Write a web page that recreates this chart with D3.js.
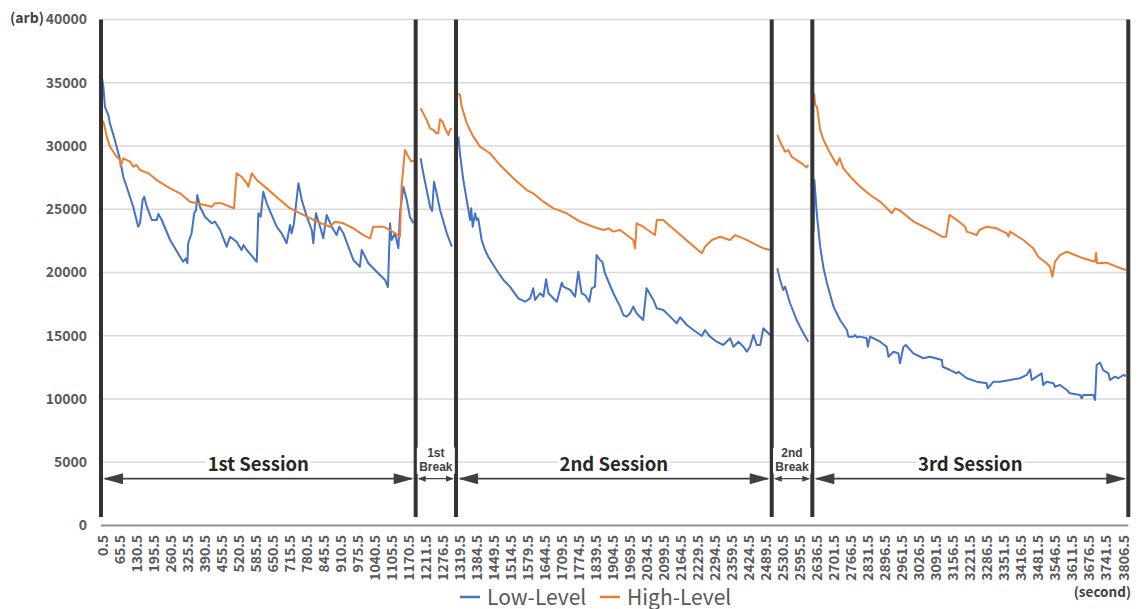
<!DOCTYPE html>
<html>
<head>
<meta charset="utf-8">
<script src="https://cdn.jsdelivr.net/npm/d3@7"></script>
<style>
  html, body { margin: 0; padding: 0; background: #fff; }
  svg text { font-family: "Noto Sans CJK JP", "Noto Sans", sans-serif; }
</style>
</head>
<body>
<svg id="chart" width="1138" height="609"></svg>
<script>
// ---- axis definitions -------------------------------------------------
// time labels (seconds), one every 65 samples along the category axis
const tickLabels = [
  "0.5","65.5","130.5","195.5","260.5","325.5","390.5","455.5","520.5","585.5",
  "650.5","715.5","780.5","845.5","910.5","975.5","1040.5","1105.5","1170.5",
  "1211.5","1276.5",
  "1319.5","1384.5","1449.5","1514.5","1579.5","1644.5","1709.5","1774.5","1839.5",
  "1904.5","1969.5","2034.5","2099.5","2164.5","2229.5","2294.5","2359.5","2424.5","2489.5",
  "2530.5","2595.5",
  "2636.5","2701.5","2766.5","2831.5","2896.5","2961.5","3026.5","3091.5","3156.5",
  "3221.5","3286.5","3351.5","3416.5","3481.5","3546.5","3611.5","3676.5","3741.5","3806.5"
];
const samplesPerTick = 65;
const sampleCount = 3924;
const yTicks = [0, 5000, 10000, 15000, 20000, 25000, 30000, 35000, 40000];

// phase boundaries (sample index) and phase names
const phaseBounds = [0, 1202, 1356, 2562, 2717, 3924];
const phaseNames = [["1st Session"], ["1st", "Break"], ["2nd Session"], ["2nd", "Break"], ["3rd Session"]];

// ---- series: [sample index, value], one list per phase ----------------
const lowLevel = [
  [[0,35870],[9,34690],[15,33100],[28,32450],[34,31790],[53,30470],[73,28890],[85,27570],[98,26780],
   [123,25200],[142,23620],[149,23890],[159,25730],[165,25990],[175,25200],[194,24150],[213,24150],
   [219,24620],[232,24150],[264,22570],[302,21250],[314,20850],[324,21120],[330,20730],[333,22310],
   [346,23100],[356,24680],[363,24940],[368,26130],[378,25200],[397,24410],[423,23890],[435,24020],
   [455,23360],[480,22040],[493,22830],[518,22430],[537,21780],[544,22170],[557,21780],[595,20850],
   [601,24680],[610,24410],[620,26390],[633,25470],[671,23620],[690,23100],[709,22310],[722,23760],
   [728,23100],[737,23890],[754,27050],[767,25730],[786,24410],[805,23360],[811,22310],[821,24680],
   [837,23620],[849,22700],[862,24550],[881,23620],[900,22960],[910,23620],[926,23100],[964,20990],
   [989,20460],[996,21780],[1021,20730],[1053,20060],[1085,19410],[1096,18850],[1104,23890],
   [1110,22570],[1123,23100],[1136,21910],[1142,24680],[1155,26780],[1168,25730],[1180,24410],[1193,23890]],
  [[1221,29030],[1231,27840],[1244,26520],[1257,25200],[1265,24860],[1272,27180],[1282,26260],
   [1295,24940],[1308,24020],[1321,23100],[1340,22040]],
  [[1365,30740],[1371,29420],[1384,27310],[1397,25730],[1410,24150],[1414,25070],[1420,23620],
   [1429,24680],[1435,24150],[1441,24280],[1454,22570],[1467,21780],[1479,21250],[1511,20200],
   [1537,19410],[1562,18880],[1594,17960],[1620,17690],[1639,17960],[1651,18750],[1658,17830],
   [1677,18360],[1690,18090],[1700,19460],[1709,18360],[1741,17690],[1760,19190],[1766,18880],
   [1792,18620],[1811,18090],[1823,20060],[1836,18360],[1849,18220],[1865,17690],[1874,18750],
   [1887,18880],[1893,21380],[1906,20990],[1915,20850],[1925,19940],[1957,18360],[1983,17300],
   [1995,16640],[2008,16510],[2021,16780],[2033,17300],[2046,16780],[2071,16250],[2084,18750],
   [2110,17830],[2123,17170],[2148,17040],[2174,16510],[2199,15980],[2212,16460],[2238,15850],
   [2263,15450],[2295,14980],[2307,15450],[2326,14930],[2352,14530],[2377,14270],[2403,14800],
   [2416,14130],[2435,14530],[2454,14130],[2467,13740],[2479,14130],[2492,15060],[2505,14270],
   [2518,14270],[2530,15590],[2543,15320],[2556,15060]],
  [[2583,20330],[2594,19410],[2606,18620],[2613,18880],[2632,17570],[2657,16250],[2683,15190],[2702,14530]],
  [[2722,23230],[2725,27310],[2734,24680],[2747,22040],[2760,20330],[2773,19150],[2798,17300],
   [2823,16250],[2849,15450],[2855,14930],[2874,14930],[2880,15060],[2887,14880],[2899,14930],
   [2925,14800],[2929,14130],[2938,14930],[2976,14530],[3001,14130],[3008,13340],[3027,13740],
   [3046,13610],[3052,12820],[3065,14130],[3074,14270],[3103,13610],[3141,13220],[3167,13340],
   [3212,13080],[3215,12550],[3243,12290],[3269,12030],[3275,12160],[3307,11640],[3345,11370],
   [3383,11240],[3387,10850],[3409,11370],[3434,11370],[3472,11500],[3510,11640],[3536,11900],
   [3549,12350],[3555,11500],[3574,11770],[3593,12030],[3599,11110],[3612,11370],[3638,11240],
   [3644,10970],[3663,11110],[3689,10710],[3701,10450],[3740,10320],[3746,10060],[3752,10320],
   [3790,10320],[3797,9920],[3803,12690],[3816,12870],[3828,12290],[3848,12030],[3854,11500],
   [3873,11770],[3886,11640],[3905,11900],[3915,11820]]
];

const highLevel = [
  [[0,32190],[11,31790],[22,30740],[34,29950],[60,29150],[73,28890],[75,28360],[85,29020],[111,28760],
   [123,28360],[136,28500],[149,28100],[181,27840],[213,27310],[264,26650],[302,26260],[340,25600],
   [366,25470],[397,25340],[423,25200],[435,25470],[461,25470],[493,25200],[508,25070],[518,27840],
   [537,27570],[557,27050],[563,26780],[576,27840],[595,27310],[633,26650],[684,25730],[722,25070],
   [773,24550],[824,24020],[875,23620],[894,24020],[926,23890],[964,23490],[1002,22960],[1028,22700],
   [1040,23620],[1078,23620],[1104,23360],[1142,22830],[1148,26780],[1161,29680],[1174,29150],
   [1186,28760],[1199,28890]],
  [[1221,32980],[1231,32580],[1244,32060],[1257,31400],[1269,31270],[1282,31000],[1288,31000],
   [1295,32110],[1305,31920],[1314,31400],[1327,30870],[1333,31270],[1340,31400]],
  [[1365,34170],[1371,34030],[1378,33110],[1397,31790],[1422,30740],[1448,29950],[1467,29680],
   [1486,29420],[1524,28500],[1575,27450],[1626,26520],[1651,26260],[1690,25600],[1728,25070],
   [1779,24680],[1830,24020],[1880,23620],[1919,23360],[1938,23490],[1957,23230],[1983,23360],
   [2008,22960],[2033,22570],[2040,21910],[2046,23890],[2071,23620],[2116,22960],[2123,24150],
   [2148,24150],[2161,23890],[2199,23230],[2250,22310],[2295,21520],[2307,22040],[2333,22570],
   [2365,22830],[2403,22570],[2422,22960],[2454,22700],[2492,22310],[2530,21910],[2556,21780]],
  [[2583,30870],[2594,30340],[2613,29550],[2625,29680],[2638,29150],[2657,28890],[2676,28630],
   [2695,28310],[2702,28500]],
  [[2724,34170],[2728,33240],[2735,33110],[2747,31270],[2760,30470],[2785,29420],[2811,28500],
   [2821,29030],[2836,28240],[2862,27570],[2900,26780],[2938,26130],[2976,25600],[3021,24680],
   [3034,25070],[3053,24880],[3104,24020],[3142,23620],[3180,23230],[3212,22830],[3228,22830],
   [3241,24550],[3269,24150],[3301,23620],[3307,23230],[3345,22960],[3355,23360],[3383,23620],
   [3421,23490],[3460,23100],[3466,22830],[3472,23230],[3523,22570],[3561,21910],[3580,21250],
   [3612,20730],[3625,20460],[3634,19670],[3644,20850],[3663,21380],[3689,21650],[3720,21380],
   [3752,21120],[3797,20850],[3801,21570],[3805,20730],[3841,20780],[3879,20460],[3915,20200]]
];

const seriesNames = ["Low-Level", "High-Level"];
const seriesColors = ["#4472C4", "#ED7D31"];

// ---- layout -----------------------------------------------------------
const plot = { left: 101, right: 1128.3, top: 19.5, bottom: 525.5 };
const textColor = "#595959";

const svg = d3.select("#chart");

const x = d3.scaleLinear().domain([0, sampleCount]).range([plot.left, plot.right]);
const y = d3.scaleLinear().domain([0, 40000]).range([plot.bottom, plot.top]);

// horizontal gridlines
svg.append("g").selectAll("line")
  .data(yTicks.filter(d => d > 0))
  .join("line")
  .attr("x1", plot.left).attr("x2", plot.right)
  .attr("y1", d => y(d)).attr("y2", d => y(d))
  .attr("stroke", "#d9d9d9").attr("stroke-width", 1.5);

// y axis labels
const yAxis = d3.axisLeft(y).tickValues(yTicks).tickSize(0).tickPadding(14).tickFormat(d3.format("d"));
const gy = svg.append("g").attr("transform", `translate(${plot.left},0)`).call(yAxis);
gy.select(".domain").remove();
gy.selectAll("text")
  .attr("fill", textColor).attr("font-size", 14).attr("font-weight", 700);

// category axis (time labels every 65 samples)
const xTickPos = tickLabels.map((_, i) => i * samplesPerTick);
const xAxis = d3.axisBottom(x).tickValues(xTickPos).tickSize(0)
  .tickFormat((d, i) => tickLabels[i]);
const gx = svg.append("g").attr("transform", `translate(0,${plot.bottom})`).call(xAxis);
gx.select(".domain").attr("stroke", "#8c8c8c").attr("stroke-width", 2)
  .attr("d", `M${plot.left},0H${plot.right}`);
gx.selectAll("text")
  .attr("fill", textColor).attr("font-size", 14).attr("font-weight", 700)
  .attr("transform", "rotate(-90)")
  .attr("text-anchor", "end")
  .attr("dominant-baseline", "central")
  .attr("x", -9.5).attr("y", 0).attr("dy", null);

// data lines
const line = d3.line().x(d => x(d[0])).y(d => y(d[1]));
[lowLevel, highLevel].forEach((series, k) => {
  svg.append("g").selectAll("path")
    .data(series)
    .join("path")
    .attr("d", line)
    .attr("fill", "none")
    .attr("stroke", seriesColors[k])
    .attr("stroke-width", 2)
    .attr("stroke-linejoin", "round");
});

// phase boundary bars
const barBottom = y(0) - 8.5;
svg.append("g").selectAll("line")
  .data(phaseBounds)
  .join("line")
  .attr("x1", d => x(d)).attr("x2", d => x(d))
  .attr("y1", y(40000)).attr("y2", barBottom)
  .attr("stroke", "#333333").attr("stroke-width", 4);

// double-headed arrows and phase labels
const arrowY = y(3700);
const ann = svg.append("g");
function head(xTip, dir, len, half) {
  return `M${xTip},${arrowY}L${xTip - dir * len},${arrowY - half}L${xTip - dir * len},${arrowY + half}Z`;
}
phaseNames.forEach((name, i) => {
  const x0 = x(phaseBounds[i]) + 2, x1 = x(phaseBounds[i + 1]) - 2;
  const isSession = name.length === 1;
  const len = isSession ? 20 : 8, half = isSession ? 5.5 : 3;
  ann.append("line")
    .attr("x1", x0 + 2).attr("x2", x1 - 2).attr("y1", arrowY).attr("y2", arrowY)
    .attr("stroke", "#404040").attr("stroke-width", isSession ? 1.8 : 1.2);
  ann.append("path").attr("d", head(x0, -1, len, half)).attr("fill", "#404040");
  ann.append("path").attr("d", head(x1, 1, len, half)).attr("fill", "#404040");

  const cx = (x(phaseBounds[i]) + x(phaseBounds[i + 1])) / 2;
  const g = ann.append("g");
  const bg = g.append("rect").attr("fill", "#fff");
  if (isSession) {
    const t = g.append("text")
      .attr("text-anchor", "middle").attr("fill", "#262626").attr("font-weight", 700)
      .attr("x", cx).attr("y", arrowY - 7.5).attr("font-size", 18.5).text(name[0]);
    const bb = t.node().getBBox();
    bg.attr("x", bb.x - 2).attr("y", bb.y + 3).attr("width", bb.width + 4).attr("height", bb.height - 6);
  } else {
    // two short lines in a compact face so the stacked words sit tight
    const offsets = [-21.5, -7.5];
    name.forEach((word, j) => {
      g.append("text")
        .attr("text-anchor", "middle").attr("fill", "#404040").attr("font-weight", 700)
        .style("font-family", "'Liberation Sans', Arial, sans-serif")
        .attr("font-size", 12)
        .attr("x", cx).attr("y", arrowY + offsets[j]).text(word);
    });
    bg.attr("x", cx - 19).attr("y", arrowY - 31).attr("width", 38).attr("height", 26);
  }
});

// unit labels
svg.append("text").attr("x", 10).attr("y", 23)
  .attr("font-size", 14).attr("font-weight", 700).attr("fill", "#404040").text("(arb)");
svg.append("text").attr("x", 1131).attr("y", 597).attr("text-anchor", "end")
  .attr("font-size", 13.5).attr("font-weight", 700).attr("fill", "#404040").text("(second)");

// legend
const legend = svg.append("g");
const legendX = [460, 600];
seriesNames.forEach((name, k) => {
  legend.append("line")
    .attr("x1", legendX[k]).attr("x2", legendX[k] + 20)
    .attr("y1", 597).attr("y2", 597)
    .attr("stroke", seriesColors[k]).attr("stroke-width", 2.5);
  legend.append("text")
    .attr("x", legendX[k] + 27).attr("y", 604.5)
    .attr("font-size", 21).attr("fill", textColor).text(name);
});
</script>
</body>
</html>
